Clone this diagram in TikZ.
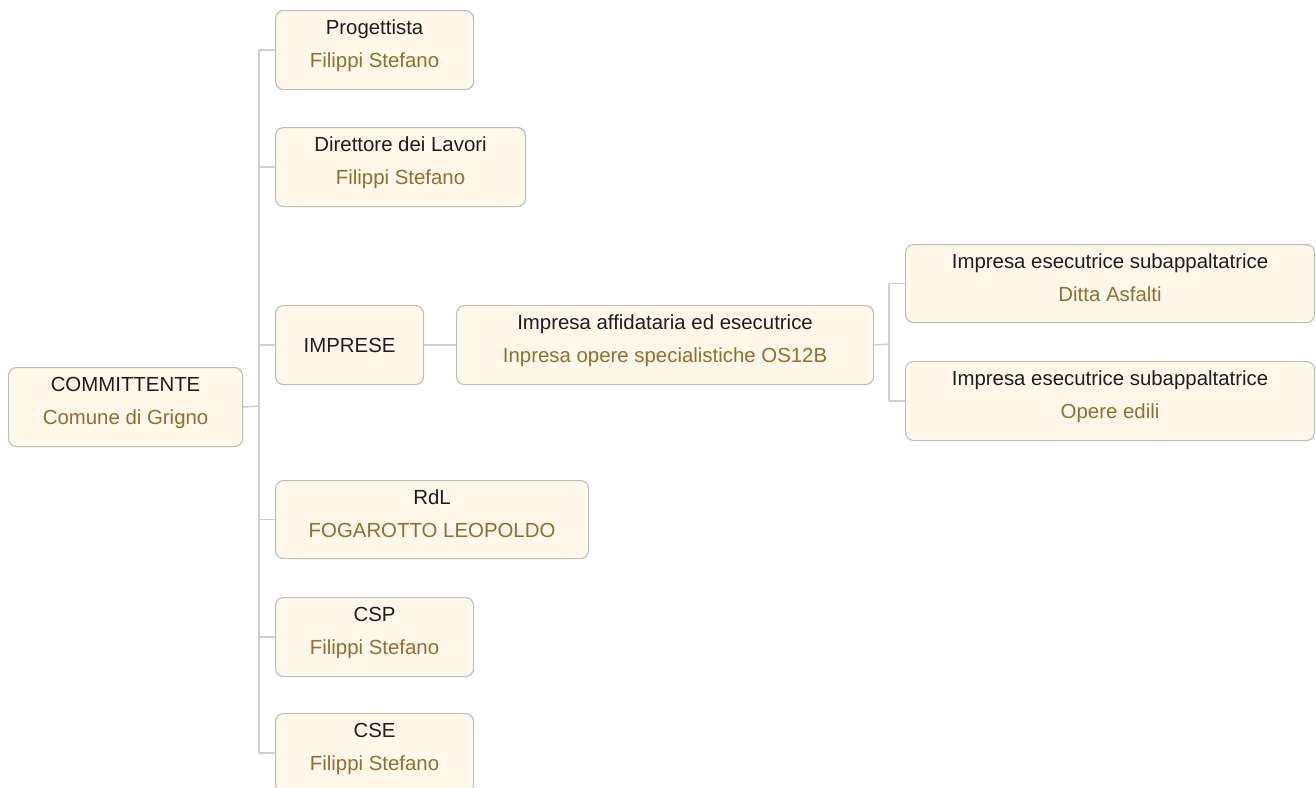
\documentclass[tikz,border=0pt]{standalone}
\usepackage{fontspec}
\setmainfont{Liberation Sans}
\definecolor{boxfill}{HTML}{FEF7EA}
\definecolor{boxline}{HTML}{BDBDBD}
\definecolor{conn}{HTML}{CFCFCF}
\definecolor{titlec}{HTML}{1E1E24}
\definecolor{subc}{HTML}{946E2E}
\newcommand\orgbox[7]{%
  \node[orgnode, minimum width=#4pt, minimum height=#5pt, anchor=north west] (#1) at (#2,#3) {};
  \node[ttl, anchor=base] (#1-t) at ([yshift=-24.5pt]#1.north) {#6};
  \node[sbt, anchor=base] (#1-s) at ([yshift=-57pt]#1.north) {#7};}
\tikzset{
  orgnode/.style={draw=boxline, fill=boxfill, line width=1.1pt, rounded corners=8pt, inner sep=0pt},
  ttl/.style={inner sep=0pt, text=titlec, font=\fontsize{20.4pt}{23pt}\selectfont},
  sbt/.style={inner sep=0pt, text=subc, font=\fontsize{20.4pt}{23pt}\selectfont},
  link/.style={draw=conn, line width=1.5pt}
}
\begin{document}
\begin{tikzpicture}[x=1pt, y=-1pt]
\useasboundingbox (0,0) rectangle (1316,787);
% boxes
\orgbox{comm}{8}{367}{234}{79}{COMMITTENTE}{Comune di Grigno}
\orgbox{prog}{275}{10}{198}{79}{Progettista}{Filippi Stefano}
\orgbox{dl}{275}{127}{250}{79}{Direttore dei Lavori}{Filippi Stefano}
\node[orgnode, minimum width=148pt, minimum height=79pt, anchor=north west] (imp) at (275,305) {};
\node[ttl] (imp-t) at (imp.center) {IMPRESE};
\orgbox{aff}{456}{305}{417}{79}{Impresa affidataria ed esecutrice}{Inpresa opere specialistiche OS12B}
\orgbox{subA}{905}{244}{409}{78}{Impresa esecutrice subappaltatrice}{Ditta Asfalti}
\orgbox{subB}{905}{361}{409}{79}{Impresa esecutrice subappaltatrice}{Opere edili}
\orgbox{rdl}{275}{480}{313}{78}{RdL}{FOGAROTTO LEOPOLDO}
\orgbox{csp}{275}{597}{198}{79}{CSP}{Filippi Stefano}
\orgbox{cse}{275}{713}{198}{79}{CSE}{Filippi Stefano}
% connectors
\coordinate (tr) at (259,406);
\coordinate (br) at (889,344);
\draw[link] (comm.east) -- (tr);
\draw[link] (tr |- prog.west) -- (tr |- cse.west);
\draw[link] (tr |- prog.west) -- (prog.west);
\draw[link] (tr |- dl.west) -- (dl.west);
\draw[link] (tr |- imp.west) -- (imp.west);
\draw[link] (tr |- rdl.west) -- (rdl.west);
\draw[link] (tr |- csp.west) -- (csp.west);
\draw[link] (tr |- cse.west) -- (cse.west);
\draw[link] (imp.east) -- (aff.west);
\draw[link] (aff.east) -- (br);
\draw[link] (br |- subA.west) -- (br |- subB.west);
\draw[link] (br |- subA.west) -- (subA.west);
\draw[link] (br |- subB.west) -- (subB.west);
\end{tikzpicture}
\end{document}
